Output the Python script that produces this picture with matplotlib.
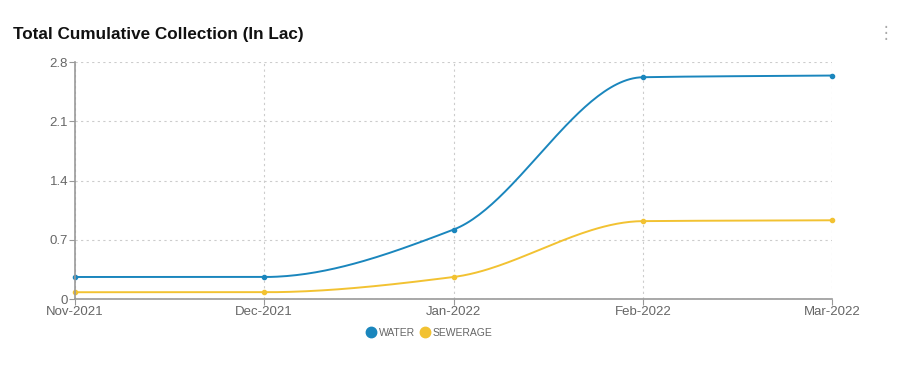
import numpy as np
import matplotlib
matplotlib.use("Agg")
import matplotlib.pyplot as plt
from matplotlib.lines import Line2D

plt.rcParams['font.family'] = ['Liberation Sans', 'DejaVu Sans']

months = ["Nov-2021", "Dec-2021", "Jan-2022", "Feb-2022", "Mar-2022"]
water = [0.26, 0.26, 0.82, 2.62, 2.64]
sewerage = [0.08, 0.08, 0.26, 0.92, 0.93]
y_ticks = [0, 0.7, 1.4, 2.1, 2.8]
y_labels = ["0", "0.7", "1.4", "2.1", "2.8"]

col_water = "#1a86bd"
col_sew = "#f2c232"


def monotone_curve(x, y, n=60):
    # monotone cubic (Fritsch-Carlson) just for drawing the smooth line
    x = np.asarray(x, float)
    y = np.asarray(y, float)
    h = np.diff(x)
    d = np.diff(y) / h
    m = np.zeros_like(y)
    m[0], m[-1] = d[0], d[-1]
    for i in range(1, len(y) - 1):
        if d[i - 1] * d[i] <= 0:
            m[i] = 0
        else:
            w1 = 2 * h[i] + h[i - 1]
            w2 = h[i] + 2 * h[i - 1]
            m[i] = (w1 + w2) / (w1 / d[i - 1] + w2 / d[i])
    xs, ys = [], []
    for i in range(len(x) - 1):
        t = np.linspace(0, 1, n)
        h00 = 2 * t**3 - 3 * t**2 + 1
        h10 = t**3 - 2 * t**2 + t
        h01 = -2 * t**3 + 3 * t**2
        h11 = t**3 - t**2
        xs.append(x[i] + t * h[i])
        ys.append(h00 * y[i] + h10 * h[i] * m[i] + h01 * y[i + 1] + h11 * h[i] * m[i + 1])
    return np.concatenate(xs), np.concatenate(ys)


fig = plt.figure(figsize=(9, 3.79), dpi=100)
ax = fig.add_axes([75 / 900, 1 - 299 / 379, (832 - 75) / 900, (299 - 62) / 379])

xpos = np.arange(len(months))
for vals, c in [(sewerage, col_sew), (water, col_water)]:
    cx, cy = monotone_curve(xpos, vals)
    ax.plot(cx, cy, color=c, lw=1.4, solid_capstyle='round', clip_on=False)
    ax.plot(xpos, vals, 'o', color=c, ms=3, clip_on=False)

ax.set_xlim(0, len(months) - 1)
ax.set_ylim(0, 2.8)
ax.set_xticks(xpos)
ax.set_xticklabels(months)
ax.set_yticks(y_ticks)
ax.set_yticklabels(y_labels)
ax.grid(True, color="#cccccc", ls=(0, (2, 3)), lw=0.8)
ax.set_axisbelow(True)
for s in ["top", "right"]:
    ax.spines[s].set_visible(False)
for s in ["left", "bottom"]:
    ax.spines[s].set_color("#999999")
    ax.spines[s].set_linewidth(1.2)
ax.tick_params(colors="#999999", labelcolor="#666666", labelsize=9.5, length=4, pad=1)

fig.text(13 / 900, 1 - 35 / 379, "Total Cumulative Collection (In Lac)", fontsize=12.3,
         fontweight="bold", color="#111111", va="center", ha="left")
fig.text(886 / 900, 1 - 34 / 379, "\u22ee", fontsize=12, color="#aaaaaa", ha="center", va="center")

handles = [Line2D([], [], ls="", marker="o", ms=7.5, color=col_water),
           Line2D([], [], ls="", marker="o", ms=7.5, color=col_sew)]
fig.legend(handles, ["WATER", "SEWERAGE"], loc="center", bbox_to_anchor=(429 / 900, 1 - 333 / 379),
           ncol=2, frameon=False, fontsize=7.5, handletextpad=0.2, columnspacing=0.4,
           labelcolor="#666666", handlelength=1.1)

fig.savefig("out.png", dpi=100, facecolor="white")
